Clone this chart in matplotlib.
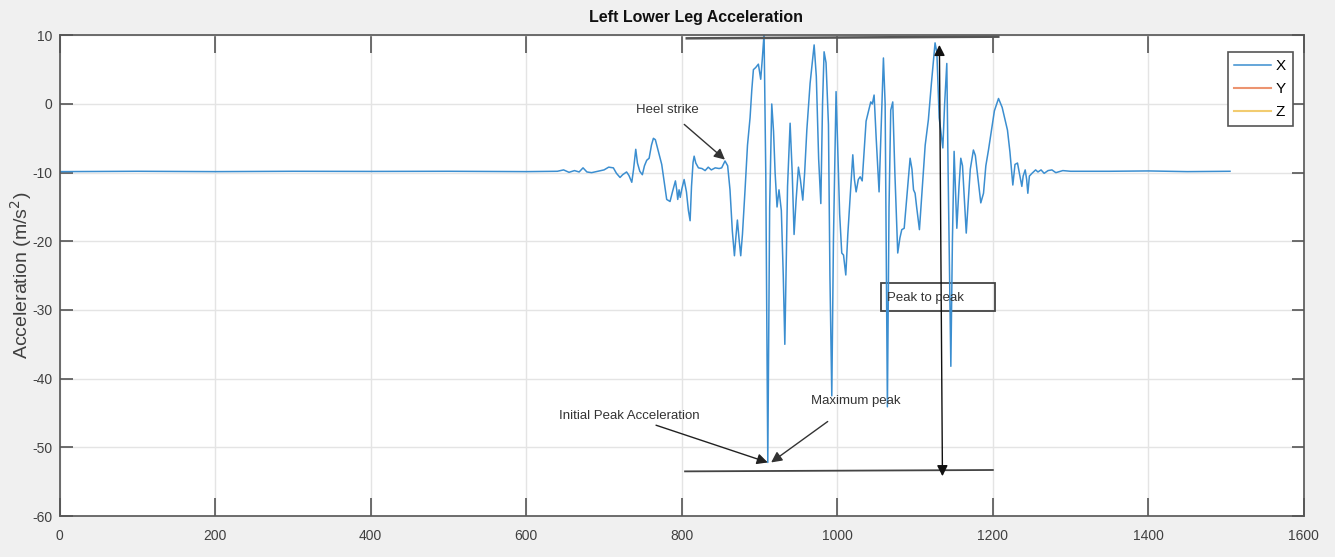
import numpy as np
import matplotlib
matplotlib.use('Agg')
import matplotlib.pyplot as plt
from matplotlib import font_manager
from matplotlib.patches import Rectangle

plt.rcParams['axes.unicode_minus'] = False

# pick a narrow font if we have it (matlab export looks condensed)
names = {f.name for f in font_manager.fontManager.ttflist}
narrow = 'Liberation Sans Narrow' if 'Liberation Sans Narrow' in names else 'Liberation Sans'

# sample index vs acceleration
sample = [0, 100, 200, 300, 400, 500, 600, 640,
          648, 655, 662, 668, 673, 678, 684, 692, 700, 706, 712, 716,
          720.6, 724, 729, 732, 735.7, 738, 740.8, 743, 746, 749.3, 752, 754.9,
          758, 761, 763.5, 766, 769, 774.2, 777, 780.6, 784.9, 788, 791.8, 793.5,
          794.8, 796.5, 798, 800, 803, 806, 808.5, 810.7, 812.5, 814.5, 815.9, 818,
          821.4, 826, 830, 834, 838, 843, 848, 851.3, 855.6, 859, 862, 865,
          867.7, 869.5, 871.5, 873.5, 875.8, 878, 881.4, 884.5, 887.8, 890, 892.1, 895,
          898.5, 901.5, 903.5, 905.8, 908, 910.6, 913, 915.7, 918, 920, 922.5, 925,
          928, 930.5, 932.5, 934.5, 936, 939.3, 942, 944.4, 947, 950, 952.5, 955.6,
          958, 960.8, 965, 970.2, 973, 976, 978.8, 981, 983, 985.5, 988.6, 990.5,
          992.9, 995, 998.4, 1001, 1003, 1005.7, 1008, 1010.9, 1013.5, 1016.5, 1019.9, 1022,
          1024.2, 1027, 1029.4, 1032, 1035, 1037, 1040, 1043, 1045, 1047.3, 1050, 1053.7,
          1056.5, 1059.3, 1061.5, 1064.4, 1066.5, 1068.7, 1071.3, 1074, 1077.7, 1080.5, 1082.9, 1086,
          1089, 1093.6, 1096, 1098, 1100, 1102, 1105.6, 1110, 1113, 1117.1, 1121, 1125.7,
          1128, 1131, 1135.7, 1138, 1140.8, 1142.5, 1146, 1148, 1150.2, 1153.7, 1156.5, 1158.8,
          1161, 1165.8, 1169, 1171, 1175, 1177.5, 1180, 1184.5, 1188, 1191, 1194.4, 1198,
          1202, 1207.3, 1212, 1218.8, 1222, 1225.7, 1228.5, 1231.7, 1234, 1237.3, 1239, 1241.6,
          1243.5, 1245, 1247, 1250.3, 1255, 1258, 1262, 1266, 1271, 1276, 1281, 1290,
          1300, 1350, 1400, 1450, 1505]
acc_x = [-9.85, -9.8, -9.85, -9.8, -9.82, -9.8, -9.85, -9.8,
         -9.6, -9.95, -9.7, -9.9, -9.3, -9.9, -10.0, -9.8, -9.6, -9.2, -9.3, -10.1,
         -10.7, -10.3, -9.9, -10.4, -11.4, -9.5, -6.6, -8.6, -9.8, -10.3, -9.0, -8.2,
         -7.9, -6.0, -5.0, -5.2, -6.5, -8.8, -11.0, -13.9, -14.2, -12.8, -11.2, -12.5,
         -13.9, -12.5, -13.6, -12.4, -11.0, -12.8, -15.5, -17.0, -12.0, -8.5, -7.6, -8.6,
         -9.3, -9.4, -9.7, -9.2, -9.6, -9.3, -9.4, -9.3, -8.3, -9.0, -12.5, -18.5,
         -22.1, -19.5, -16.9, -19.5, -22.1, -19.0, -12.4, -6.0, -2.0, 2.0, 5.0, 5.3,
         5.8, 3.6, 6.5, 10.2, -10.0, -52.2, -15.0, 0.0, -4.0, -10.0, -15.0, -12.5,
         -15.5, -25.0, -35.0, -22.0, -12.0, -2.8, -10.0, -19.0, -14.0, -9.2, -11.0, -14.0,
         -10.0, -3.8, 3.0, 8.6, 4.0, -8.0, -14.5, 0.0, 7.6, 6.0, -3.0, -25.0,
         -42.5, -20.0, 1.8, -8.0, -16.0, -21.7, -22.0, -24.9, -19.0, -13.5, -7.4, -11.0,
         -12.8, -11.0, -10.6, -11.2, -6.0, -2.5, -1.1, 0.3, 0.0, 1.3, -5.0, -12.8,
         -3.0, 6.7, 0.0, -44.1, -15.0, -0.9, 0.3, -10.0, -21.7, -19.5, -18.3, -18.1,
         -14.0, -7.9, -9.5, -12.5, -13.0, -15.0, -18.3, -11.0, -6.0, -2.3, 3.0, 8.9,
         7.5, -2.0, -6.4, 0.0, 5.9, -10.0, -38.2, -20.0, -6.9, -18.1, -12.0, -7.9,
         -9.0, -18.8, -13.0, -9.5, -6.7, -7.5, -10.0, -14.4, -13.0, -9.0, -6.7, -4.0,
         -1.0, 0.8, -0.5, -3.8, -7.0, -11.8, -8.8, -8.6, -10.0, -12.0, -10.5, -9.6,
         -11.0, -13.0, -10.5, -10.1, -9.6, -9.9, -9.6, -10.1, -9.7, -9.6, -10.0, -9.7,
         -9.8, -9.8, -9.75, -9.85, -9.8]
# Y and Z are listed in the legend but not drawn
acc_y = []
acc_z = []

xticks = [0, 200, 400, 600, 800, 1000, 1200, 1400, 1600]
yticks = [-60, -50, -40, -30, -20, -10, 0, 10]

fig = plt.figure(figsize=(13.35, 5.57), dpi=100, facecolor='#f0f0f0')
ax = fig.add_axes([0.0447, 0.0736, 0.932, 0.863])
ax.set_facecolor('white')

ax.plot(sample, acc_x, color='#3b8ed0', lw=1.1, label='X')
ax.plot(acc_y, acc_y, color='#ec9470', lw=1.5, label='Y')
ax.plot(acc_z, acc_z, color='#f2cc70', lw=1.5, label='Z')

ax.set_xlim(0, 1600)
ax.set_ylim(-60, 10)
ax.set_xticks(xticks)
ax.set_yticks(yticks)
ax.grid(True, color='#e4e4e4', lw=1)
ax.set_axisbelow(True)

for s in ax.spines.values():
    s.set_color('#555555')
    s.set_linewidth(1.2)
ax.tick_params(axis='x', direction='in', top=True, length=13, width=1.2,
               color='#555555', pad=9, labelsize=10, labelcolor='#404040')
ax.tick_params(axis='y', direction='in', right=True, length=9, width=1.2,
               color='#555555', pad=5, labelsize=10, labelcolor='#404040')
for lab in ax.get_xticklabels() + ax.get_yticklabels():
    lab.set_fontfamily(narrow)

ax.set_ylabel('Acceleration (m/s$^2$)', fontsize=14, color='#404040',
              family='Liberation Sans')
ax.yaxis.set_label_coords(-0.021, 0.5)

fig.text(0.521, 0.968, 'Left Lower Leg Acceleration', ha='center', va='center',
         fontsize=11.5, fontweight='bold', family=narrow, color='#111111')

leg = ax.legend(loc='upper right', bbox_to_anchor=(0.991, 0.965), borderaxespad=0,
                fancybox=False, edgecolor='#555555', framealpha=1, handlelength=2.4,
                handletextpad=0.3, prop={'family': narrow, 'size': 11},
                borderpad=0.45, labelspacing=0.6)
leg.get_frame().set_linewidth(1.2)

# annotations drawn on top of the figure
txt = dict(family=narrow, fontsize=9.5, color='#333333')
ax.annotate('Heel strike', xy=(855.5, -8.1), xytext=(782, -0.9), ha='center', va='center',
            arrowprops=dict(arrowstyle='-|>', color='#333333', lw=1, mutation_scale=16,
                            shrinkA=6, shrinkB=0), **txt)
ax.annotate('Initial Peak Acceleration', xy=(910.6, -52.2), xytext=(733, -45.5),
            ha='center', va='center',
            arrowprops=dict(arrowstyle='-|>', color='#222222', lw=1, mutation_scale=16,
                            shrinkA=0, shrinkB=0), **txt)
ax.annotate('Maximum peak', xy=(914.9, -52.2), xytext=(1023.5, -43.3),
            ha='center', va='center',
            arrowprops=dict(arrowstyle='-|>', color='#333333', lw=1, mutation_scale=16,
                            shrinkA=14, shrinkB=0), **txt)

# peak to peak marker lines
ax.plot([806.4, 1207], [9.56, 9.8], color='#555555', lw=1.8)
ax.plot([804.2, 1200], [-53.5, -53.3], color='#444444', lw=1.3)
ax.annotate('', xy=(1131.3, 8.6), xytext=(1135.2, -54.2),
            arrowprops=dict(arrowstyle='<|-|>', color='#111111', lw=1, mutation_scale=16,
                            shrinkA=0, shrinkB=0))
ax.add_patch(Rectangle((1056.5, -30.2), 146.8, 4.2, fill=False, edgecolor='#444444', lw=1.3))
ax.text(1064.5, -28.2, 'Peak to peak', ha='left', va='center', **txt)

fig.savefig('out.png', dpi=100, facecolor=fig.get_facecolor())
